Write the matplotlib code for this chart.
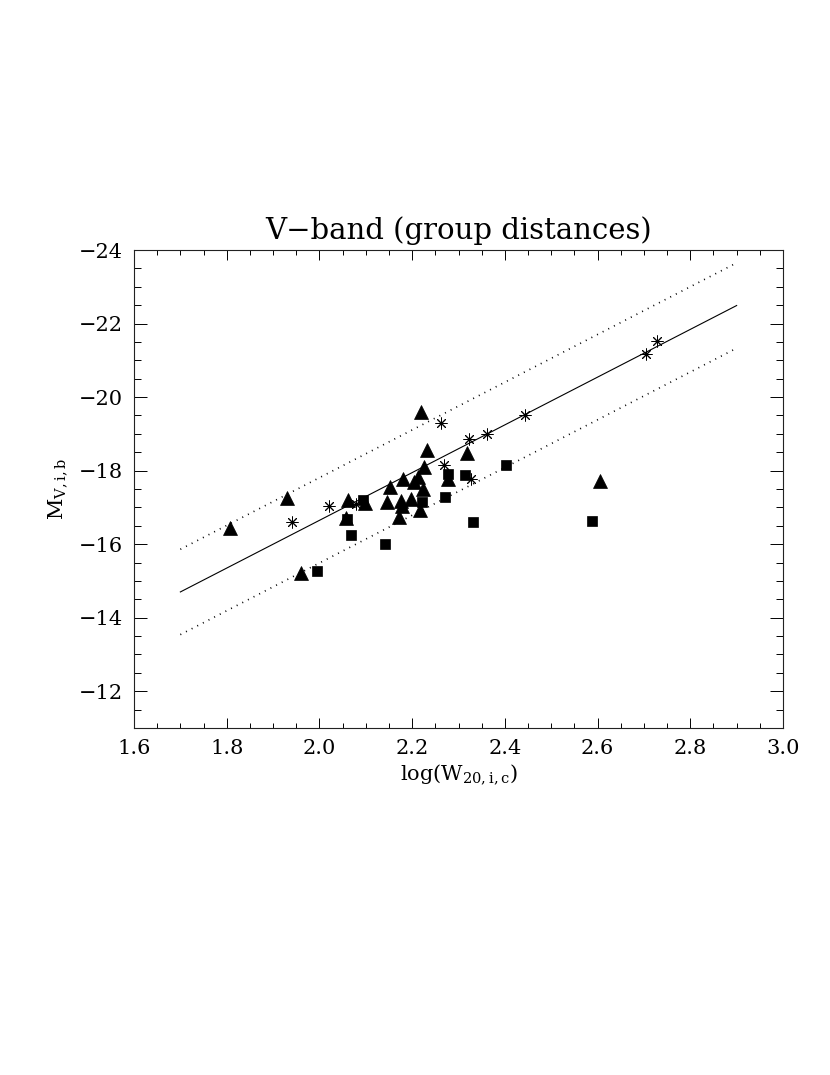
import matplotlib
matplotlib.use("Agg")
import matplotlib.pyplot as plt
import numpy as np

# --- data ---
tri_x = [1.807, 1.929, 1.960, 2.061, 2.058, 2.098, 2.145, 2.152, 2.180, 2.175,
         2.179, 2.172, 2.197, 2.204, 2.213, 2.223, 2.226, 2.231, 2.217, 2.219,
         2.318, 2.278, 2.606]
tri_y = [-16.45, -17.26, -15.22, -17.20, -16.70, -17.11, -17.15, -17.56, -17.78, -17.17,
         -17.05, -16.75, -17.24, -17.68, -17.83, -17.49, -18.10, -18.55, -16.93, -19.60,
         -18.49, -17.77, -17.72]
sq_x = [1.995, 2.059, 2.069, 2.093, 2.142, 2.221, 2.270, 2.278, 2.313, 2.332, 2.402, 2.589]
sq_y = [-15.26, -16.68, -16.26, -17.20, -16.00, -17.15, -17.28, -17.92, -17.87, -16.59, -18.16, -16.63]
ast_x = [1.941, 2.021, 2.079, 2.263, 2.269, 2.323, 2.326, 2.362, 2.444, 2.704, 2.728]
ast_y = [-16.61, -17.05, -17.08, -19.30, -18.14, -18.85, -17.78, -19.00, -19.51, -21.18, -21.52]

fit_x = [1.7, 2.9]
fit_y = [-14.70, -22.49]
scatter_off = 1.16

xticks = [1.6, 1.8, 2.0, 2.2, 2.4, 2.6, 2.8, 3.0]
yticks = [-24, -22, -20, -18, -16, -14, -12]

plt.rcParams['font.family'] = ['DejaVu Serif']
plt.rcParams['mathtext.fontset'] = 'dejavuserif'

fig = plt.figure(figsize=(8.30, 10.75), dpi=100)
ax = fig.add_axes([134/830, 1 - 728/1075, 649/830, 478/1075])

fx = np.array(fit_x)
fy = np.array(fit_y)
ax.plot(fx, fy, color='black', lw=0.8)
ax.plot(fx, fy - scatter_off, color='black', lw=1.2, linestyle=(0, (0.6, 3.2)))
ax.plot(fx, fy + scatter_off, color='black', lw=1.2, linestyle=(0, (0.6, 3.2)))

ax.plot(tri_x, tri_y, linestyle='none', marker='^', ms=10, color='black', mec='black', mew=0.5)
ax.plot(sq_x, sq_y, linestyle='none', marker='s', ms=6.5, color='black', mec='black', mew=0.5)
ax.plot(ast_x, ast_y, linestyle='none', marker=(8, 2, 0), ms=8.5, color='black', mew=0.7)

ax.set_xlim(1.6, 3.0)
ax.set_ylim(-11, -24)
ax.set_xticks(xticks)
ax.set_xticklabels([f"{v:.1f}" for v in xticks])
ax.set_yticks(yticks)
ax.set_yticklabels([f"\u2212{abs(v)}" for v in yticks])
ax.set_xticks(np.arange(1.6, 3.0001, 0.05), minor=True)
ax.set_yticks(np.arange(-24, -10.999, 0.5), minor=True)

ax.tick_params(axis='x', which='major', direction='in', length=7, width=0.7, top=True, bottom=True, labelsize=15, pad=8)
ax.tick_params(axis='x', which='minor', direction='in', length=3.5, width=0.7, top=True, bottom=True)
ax.tick_params(axis='y', which='major', direction='in', length=9.5, width=0.7, left=True, right=True, labelsize=15, pad=8)
ax.tick_params(axis='y', which='minor', direction='in', length=4.8, width=0.7, left=True, right=True)
for s in ax.spines.values():
    s.set_linewidth(0.8)
    s.set_color('#222222')

ax.set_title("V\u2212band (group distances)", fontsize=21, pad=8)
ax.set_xlabel(r"log(W$_{\mathrm{20,i,c}}$)", fontsize=15, labelpad=3)
ax.set_ylabel(r"M$_{\mathrm{V,i,b}}$", fontsize=15, labelpad=7)

fig.savefig("out.png", dpi=100, facecolor='white')
